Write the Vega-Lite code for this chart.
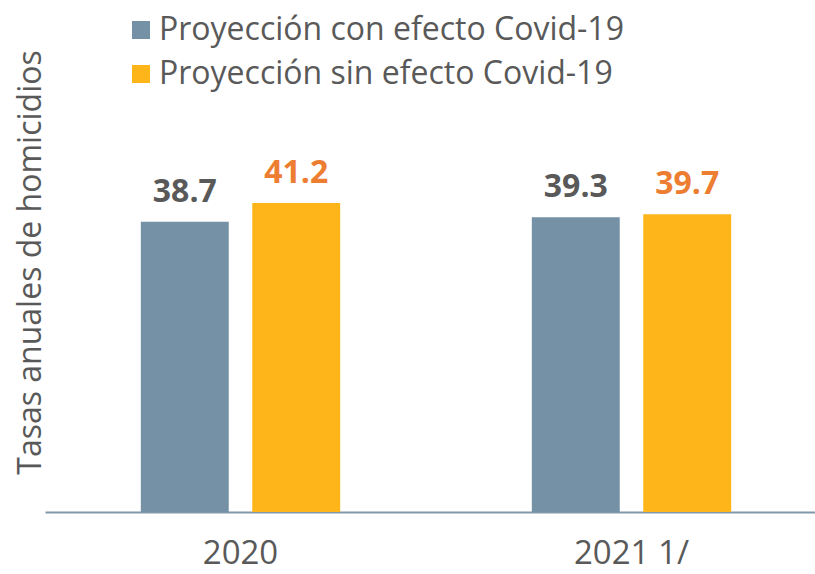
{
  "$schema": "https://vega.github.io/schema/vega-lite/v6.json",
  "width": 782,
  "height": 375,
  "autosize": "none",
  "padding": {"left": 45, "top": 137, "right": 0, "bottom": 62},
  "background": "white",
  "config": {"view": {"stroke": null}, "font": "Open Sans"},
  "data": {"values": [
    {"year": "2020", "serie": "Proyección con efecto Covid-19", "value": 38.7},
    {"year": "2020", "serie": "Proyección sin efecto Covid-19", "value": 41.2},
    {"year": "2021 1/", "serie": "Proyección con efecto Covid-19", "value": 39.3},
    {"year": "2021 1/", "serie": "Proyección sin efecto Covid-19", "value": 39.7}
  ]},
  "encoding": {
    "x": {"field": "year", "type": "nominal", "sort": null,
      "scale": {"paddingInner": 0.43, "paddingOuter": 0.215},
      "axis": {"title": null, "labelAngle": 0, "ticks": false, "domainColor": "#7F98AC", "domainWidth": 2,
        "labelFontSize": 33, "labelColor": "#595959", "labelBaseline": "alphabetic", "labelPadding": 51, "labelFont": "Open Sans"}},
    "xOffset": {"field": "serie", "type": "nominal", "sort": null,
      "scale": {"paddingInner": 0.211, "paddingOuter": 0.1055}},
    "y": {"field": "value", "type": "quantitative", "scale": {"domain": [0, 50]},
      "axis": {"title": "Tasas anuales de homicidios", "domain": false, "ticks": false, "labels": false, "grid": false,
        "titleFontSize": 32, "titleFontWeight": "normal", "titleColor": "#595959", "titleX": -15, "titleY": 125,
        "titleBaseline": "middle", "titleAlign": "center", "titleAngle": -90, "titleFont": "Open Sans", "titleLimit": 1000}}
  },
  "layer": [
    {"mark": {"type": "bar"},
     "encoding": {"color": {"field": "serie", "type": "nominal", "sort": null,
        "scale": {"range": ["#7591A5", "#FDB51A"]},
        "legend": {"title": null, "orient": "none", "legendX": 80, "legendY": -123, "direction": "vertical",
          "symbolType": "square", "symbolSize": 324, "symbolStrokeWidth": 0, "labelFontSize": 32, "labelColor": "#595959",
          "labelOffset": 2, "rowPadding": 12, "labelFont": "Open Sans", "symbolOpacity": 1, "labelLimit": 1000}}}},
    {"mark": {"type": "text", "fontSize": 32, "fontWeight": "bold", "baseline": "alphabetic", "dy": -20, "font": "Open Sans"},
     "encoding": {"text": {"field": "value", "type": "quantitative", "format": ".1f"},
       "color": {"field": "serie", "type": "nominal", "sort": null,
         "scale": {"range": ["#595959", "#ED7D31"]}, "legend": null}}}
  ],
  "resolve": {"scale": {"color": "independent"}}
}
